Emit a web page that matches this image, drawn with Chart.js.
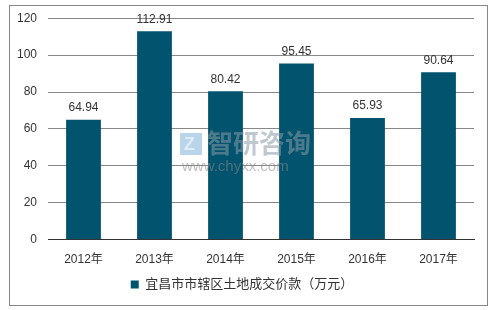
<!DOCTYPE html>
<html>
<head>
<meta charset="utf-8">
<script src="https://cdn.jsdelivr.net/npm/chart.js@4/dist/chart.umd.min.js"></script>
<style>
  body { margin: 0; background: #fff; }
  #wrap { width: 498px; height: 310px; }
</style>
</head>
<body>
<div id="wrap"><canvas id="chart"></canvas></div>
<script>
var years = ['2012年', '2013年', '2014年', '2015年', '2016年', '2017年'];
var values = [64.94, 112.91, 80.42, 95.45, 65.93, 90.64];
var seriesName = '宜昌市市辖区土地成交价款（万元）';
var yTicks = [0, 20, 40, 60, 80, 100, 120];

var font = 'Arial, "Liberation Sans", "Noto Sans CJK SC", sans-serif';

var extras = {
  id: 'extras',
  beforeDraw: function (chart) {
    var c = chart.ctx;
    c.save();
    c.fillStyle = '#fff';
    c.fillRect(0, 0, chart.width, chart.height);
    c.restore();
  },
  afterDatasetsDraw: function (chart) {
    var c = chart.ctx;
    var meta = chart.getDatasetMeta(0);
    c.save();
    // value labels
    c.font = '12px ' + font;
    c.fillStyle = '#333';
    c.textAlign = 'center';
    c.textBaseline = 'bottom';
    meta.data.forEach(function (bar, i) {
      c.fillText(values[i].toFixed(2), bar.x, bar.y - 6);
    });
    // watermark
    c.globalAlpha = 0.55;
    c.fillStyle = '#8a9aa8';
    c.font = 'bold 26px "Noto Sans CJK SC", sans-serif';
    c.textAlign = 'left';
    c.textBaseline = 'middle';
    c.fillText('智研咨询', 207, 143);
    c.font = '15px ' + font;
    c.fillStyle = '#888';
    c.fillText('www.chyxx.com', 182, 167);
    c.fillStyle = '#7fb2dd';
    c.fillRect(180, 133, 22, 22);
    c.fillStyle = '#fff';
    c.font = 'bold 18px ' + font;
    c.fillText('Z', 184, 145);
    c.restore();
    // border
    c.save();
    c.strokeStyle = '#888';
    c.lineWidth = 1;
    c.strokeRect(9.5, 5.5, 478, 300);
    c.restore();
  }
};

new Chart(document.getElementById('chart'), {
  type: 'bar',
  data: {
    labels: years,
    datasets: [{
      label: seriesName,
      data: values,
      backgroundColor: '#02536d',
      borderWidth: 0,
      categoryPercentage: 1,
      barPercentage: 0.49
    }]
  },
  options: {
    responsive: true,
    maintainAspectRatio: false,
    animation: false,
    devicePixelRatio: 1,
    layout: { padding: { left: 10, right: 24, top: 13, bottom: 9 } },
    plugins: {
      legend: {
        position: 'bottom',
        labels: {
          boxWidth: 8,
          boxHeight: 8,
          color: '#333',
          font: { size: 13, family: font },
          padding: 6
        }
      },
      tooltip: { enabled: false }
    },
    scales: {
      x: {
        grid: { display: false },
        border: { color: '#333', width: 1 },
        ticks: { color: '#333', font: { size: 12, family: font }, padding: 5 }
      },
      y: {
        min: 0,
        max: 120,
        afterFit: function (s) { s.width = 38; },
        afterBuildTicks: function (s) { s.ticks = yTicks.map(function (v) { return { value: v }; }); },
        grid: { color: '#888', drawTicks: false },
        border: { display: false },
        ticks: { color: '#333', font: { size: 12, family: font }, padding: 11 }
      }
    }
  },
  plugins: [extras]
});
</script>
</body>
</html>
